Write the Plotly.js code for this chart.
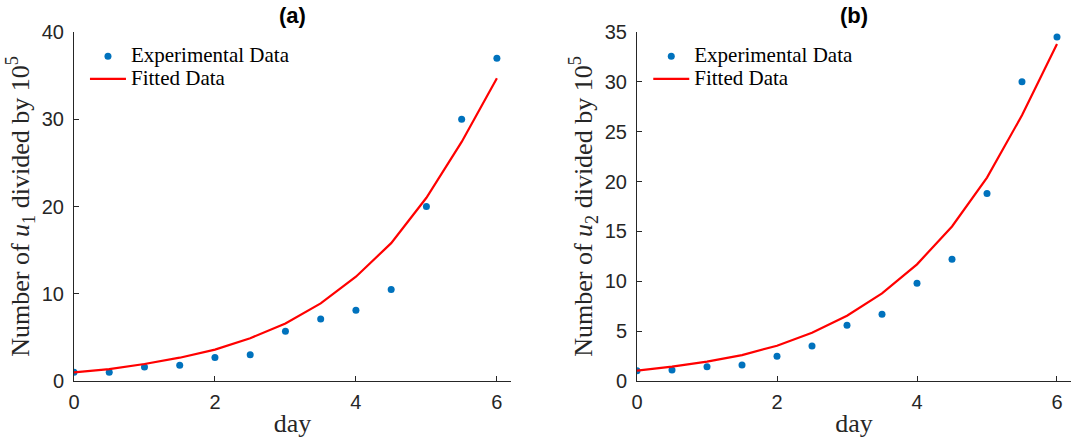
<!DOCTYPE html>
<html>
<head>
<meta charset="utf-8">
<script src="https://cdn.plot.ly/plotly-3.0.1.min.js"></script>
<style>html,body{margin:0;padding:0;background:#fff;}#chart{width:1073px;height:443px;}</style>
</head>
<body>
<div id="chart"></div>
<script>
const days = [0, 0.5, 1, 1.5, 2, 2.5, 3, 3.5, 4, 4.5, 5, 5.5, 6];
const expA = [1.0, 1.0, 1.6, 1.8, 2.7, 3.0, 5.7, 7.1, 8.1, 10.5, 20.0, 30.0, 37.0];
const fitA = [1.0, 1.37, 1.95, 2.67, 3.6, 4.9, 6.6, 8.9, 11.95, 15.8, 21.0, 27.4, 34.7];
const expB = [1.03, 1.1, 1.44, 1.6, 2.47, 3.5, 5.58, 6.7, 9.8, 12.2, 18.8, 30.0, 34.5];
const fitB = [1.03, 1.44, 1.94, 2.6, 3.54, 4.84, 6.55, 8.78, 11.7, 15.5, 20.4, 26.65, 33.8];
const titles = ['(a)', '(b)'];
const yTitles = ['Number of <i>u</i><sub>1</sub> divided by 10<sup>5</sup>', 'Number of <i>u</i><sub>2</sub> divided by 10<sup>5</sup>'];
const legendNames = ['Experimental Data', 'Fitted Data'];

const blue = '#0072BD', red = '#FF0000';
const nm = s => '<span style="font-size:21px">' + s + '</span>';
const data = [
  {x: days, y: expA, mode: 'markers', type: 'scatter', name: nm(legendNames[0]), marker: {color: blue, size: 7}, xaxis: 'x', yaxis: 'y', legend: 'legend'},
  {x: days, y: fitA, mode: 'lines', type: 'scatter', name: nm(legendNames[1]), line: {color: red, width: 2.2}, xaxis: 'x', yaxis: 'y', legend: 'legend'},
  {x: days, y: expB, mode: 'markers', type: 'scatter', name: nm(legendNames[0]), marker: {color: blue, size: 7}, xaxis: 'x2', yaxis: 'y2', legend: 'legend2'},
  {x: days, y: fitB, mode: 'lines', type: 'scatter', name: nm(legendNames[1]), line: {color: red, width: 2.2}, xaxis: 'x2', yaxis: 'y2', legend: 'legend2'}
];
const tickFont = {family: 'Liberation Sans, Arial, sans-serif', size: 20, color: '#262626'};
const titleFont = {family: 'Liberation Serif, Times New Roman, serif', size: 26, color: '#262626'};
function xax(domain, anchor) {
  return {domain: domain, anchor: anchor, range: [0, 6.2], tickvals: [0, 2, 4, 6], ticks: 'inside', ticklen: 5, tickcolor: '#262626',
    showline: true, linecolor: '#262626', linewidth: 1, showgrid: false, zeroline: false, tickfont: tickFont, ticklabelstandoff: 3,
    title: {text: 'day', font: titleFont, standoff: 1}, automargin: false};
}
function yax(anchor, maxv, dtick, title) {
  return {domain: [0, 1], anchor: anchor, range: [0, maxv], dtick: dtick, ticks: 'inside', ticklen: 5, tickcolor: '#262626',
    showline: true, linecolor: '#262626', linewidth: 1, showgrid: false, zeroline: false, tickfont: tickFont, ticklabelstandoff: 5,
    title: {text: title, font: titleFont, standoff: 4}, automargin: false};
}
const legendBase = {font: {family: 'Liberation Serif, Times New Roman, serif', size: 15, color: '#000'}, bgcolor: 'rgba(0,0,0,0)', borderwidth: 0,
  xanchor: 'left', yanchor: 'top', y: 0.977, tracegroupgap: 0, itemwidth: 36};
const layout = {
  width: 1073, height: 443,
  margin: {l: 74, r: 2, t: 32, b: 62},
  paper_bgcolor: '#fff', plot_bgcolor: '#fff',
  showlegend: true,
  xaxis: xax([0, 0.4383], 'y'),
  yaxis: yax('x', 40, 10, yTitles[0]),
  xaxis2: xax([0.5647, 1], 'y2'),
  yaxis2: yax('x2', 35, 5, yTitles[1]),
  legend: Object.assign({}, legendBase, {x: 0.011}),
  legend2: Object.assign({}, legendBase, {x: 0.576}),
  annotations: [
    {text: '<b>' + titles[0] + '</b>', xref: 'x domain', yref: 'paper', x: 0.5, y: 1, yanchor: 'bottom', yshift: 2, showarrow: false, font: {family: 'Liberation Sans, Arial, sans-serif', size: 22, color: '#000'}},
    {text: '<b>' + titles[1] + '</b>', xref: 'x2 domain', yref: 'paper', x: 0.5, y: 1, yanchor: 'bottom', yshift: 2, showarrow: false, font: {family: 'Liberation Sans, Arial, sans-serif', size: 22, color: '#000'}}
  ]
};
Plotly.newPlot('chart', data, layout, {displayModeBar: false, staticPlot: true});
</script>
</body>
</html>
